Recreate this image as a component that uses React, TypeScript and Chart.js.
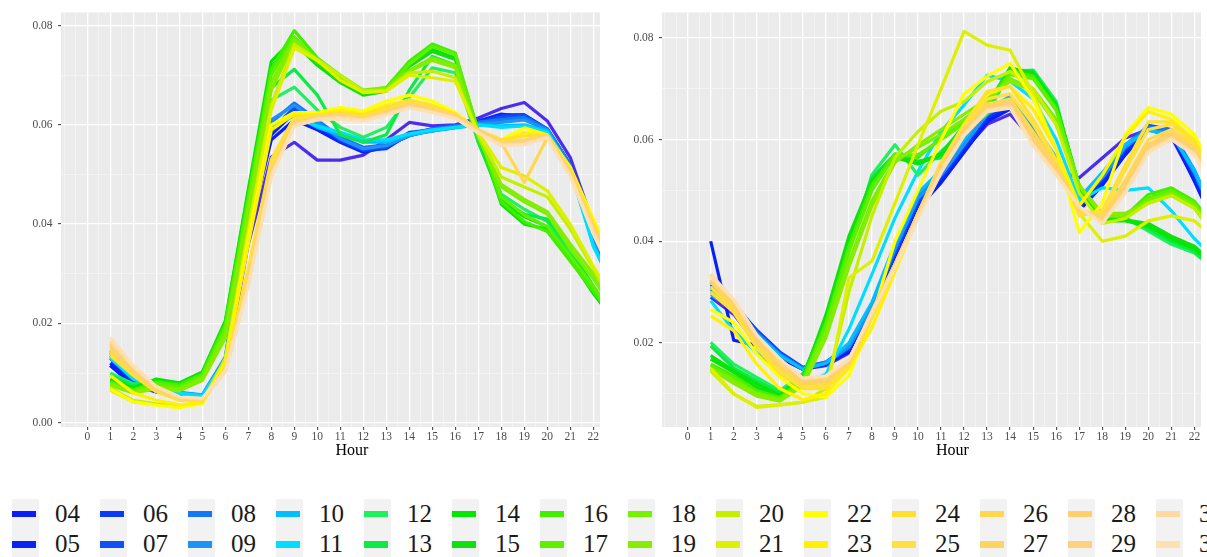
import { useEffect, useRef } from 'react';
import { Chart, registerables } from 'chart.js';
Chart.register(...registerables);

const HOURS = [1, 2, 3, 4, 5, 6, 7, 8, 9, 10, 11, 12, 13, 14, 15, 16, 17, 18, 19, 20, 21, 22, 23];
const DAYS = ['03', '04', '05', '06', '07', '08', '09', '10', '11', '12', '13', '14', '15', '16', '17', '18', '19', '20', '21', '22', '23', '24', '25', '26', '27', '28', '29', '30', '31'];
const COLORS = ['#4B2DF0', '#0A1EF5', '#0A24F8', '#0A3CF8', '#1050F5', '#1478F5', '#1E92F5', '#00BFFF', '#00DDFF', '#20F060', '#10E845', '#00E800', '#10E010', '#40F000', '#5EF000', '#76F200', '#88EC00', '#C4F000', '#DCF000', '#FFFF00', '#FFF200', '#FFE030', '#FFE040', '#FFD850', '#FFD460', '#FFCF70', '#FFD080', '#FFDAA0', '#FFE0B0'];

const X_TICKS = [-1, -0.5, 0, 0.5, 1, 1.5, 2, 2.5, 3, 3.5, 4, 4.5, 5, 5.5, 6, 6.5, 7, 7.5, 8, 8.5, 9, 9.5, 10, 10.5, 11, 11.5, 12, 12.5, 13, 13.5, 14, 14.5, 15, 15.5, 16, 16.5, 17, 17.5, 18, 18.5, 19, 19.5, 20, 20.5, 21, 21.5, 22, 22.5, 23, 23.5, 24];
const X_LABELS = [0, 1, 2, 3, 4, 5, 6, 7, 8, 9, 10, 11, 12, 13, 14, 15, 16, 17, 18, 19, 20, 21, 22];
const Y_TICKS_L = [0, 0.01, 0.02, 0.03, 0.04, 0.05, 0.06, 0.07, 0.08];
const Y_TICKS_R = [0.01, 0.02, 0.03, 0.04, 0.05, 0.06, 0.07, 0.08];
const Y_LABELS = [0, 0.02, 0.04, 0.06, 0.08];

// Left panel
const L03 = [0.0115, 0.0078, 0.0064, 0.0055, 0.0050, 0.0108, 0.0360, 0.0535, 0.0565, 0.0529, 0.0529, 0.0539, 0.0570, 0.0605, 0.0598, 0.0600, 0.0614, 0.0633, 0.0645, 0.0608, 0.0534, 0.0400, 0.0300];
const L04 = [0.0115, 0.0075, 0.0062, 0.0055, 0.0050, 0.0110, 0.0380, 0.0570, 0.0610, 0.0590, 0.0565, 0.0545, 0.0555, 0.0580, 0.0588, 0.0595, 0.0605, 0.0620, 0.0620, 0.0590, 0.0520, 0.0380, 0.0280];
const L05 = [0.0120, 0.0080, 0.0062, 0.0056, 0.0052, 0.0115, 0.0390, 0.0580, 0.0625, 0.0595, 0.0570, 0.0550, 0.0558, 0.0578, 0.0590, 0.0596, 0.0608, 0.0622, 0.0615, 0.0588, 0.0515, 0.0370, 0.0270];
const L06 = [0.0130, 0.0082, 0.0064, 0.0057, 0.0053, 0.0120, 0.0400, 0.0585, 0.0630, 0.0600, 0.0568, 0.0548, 0.0552, 0.0582, 0.0592, 0.0598, 0.0606, 0.0618, 0.0620, 0.0592, 0.0520, 0.0375, 0.0270];
const L07 = [0.0135, 0.0085, 0.0066, 0.0058, 0.0054, 0.0125, 0.0410, 0.0590, 0.0635, 0.0602, 0.0570, 0.0550, 0.0555, 0.0585, 0.0590, 0.0595, 0.0604, 0.0615, 0.0618, 0.0590, 0.0518, 0.0370, 0.0260];
const L08 = [0.0140, 0.0090, 0.0070, 0.0060, 0.0055, 0.0130, 0.0420, 0.0605, 0.0644, 0.0610, 0.0575, 0.0555, 0.0560, 0.0580, 0.0592, 0.0598, 0.0605, 0.0610, 0.0615, 0.0592, 0.0520, 0.0365, 0.0260];
const L09 = [0.0145, 0.0092, 0.0071, 0.0061, 0.0056, 0.0132, 0.0430, 0.0610, 0.0640, 0.0605, 0.0572, 0.0552, 0.0558, 0.0578, 0.0590, 0.0596, 0.0602, 0.0605, 0.0610, 0.0590, 0.0515, 0.0360, 0.0260];
const L10 = [0.0135, 0.0090, 0.0070, 0.0060, 0.0055, 0.0128, 0.0420, 0.0600, 0.0620, 0.0595, 0.0580, 0.0565, 0.0565, 0.0580, 0.0588, 0.0594, 0.0600, 0.0598, 0.0600, 0.0588, 0.0510, 0.0360, 0.0260];
const L11 = [0.0130, 0.0088, 0.0068, 0.0059, 0.0054, 0.0125, 0.0410, 0.0598, 0.0618, 0.0598, 0.0585, 0.0570, 0.0570, 0.0582, 0.0590, 0.0595, 0.0600, 0.0595, 0.0598, 0.0585, 0.0510, 0.0355, 0.0260];
const L12 = [0.0100, 0.0078, 0.0078, 0.0072, 0.0095, 0.0190, 0.0440, 0.0650, 0.0676, 0.0630, 0.0595, 0.0575, 0.0595, 0.0655, 0.0715, 0.0705, 0.0565, 0.0460, 0.0430, 0.0405, 0.0340, 0.0270, 0.0210];
const L13 = [0.0095, 0.0074, 0.0084, 0.0077, 0.0098, 0.0198, 0.0450, 0.0675, 0.0712, 0.0660, 0.0580, 0.0565, 0.0580, 0.0670, 0.0738, 0.0720, 0.0565, 0.0450, 0.0420, 0.0410, 0.0350, 0.0275, 0.0210];
const L14 = [0.0088, 0.0070, 0.0088, 0.0080, 0.0102, 0.0205, 0.0470, 0.0728, 0.0775, 0.0725, 0.0695, 0.0665, 0.0672, 0.0722, 0.0752, 0.0735, 0.0580, 0.0445, 0.0415, 0.0395, 0.0335, 0.0265, 0.0200];
const L15 = [0.0085, 0.0068, 0.0086, 0.0079, 0.0100, 0.0202, 0.0465, 0.0718, 0.0765, 0.0720, 0.0685, 0.0660, 0.0668, 0.0718, 0.0748, 0.0732, 0.0580, 0.0440, 0.0400, 0.0390, 0.0330, 0.0260, 0.0200];
const L16 = [0.0082, 0.0066, 0.0082, 0.0076, 0.0098, 0.0198, 0.0455, 0.0712, 0.0790, 0.0735, 0.0700, 0.0668, 0.0675, 0.0728, 0.0763, 0.0745, 0.0585, 0.0445, 0.0405, 0.0385, 0.0325, 0.0265, 0.0205];
const L17 = [0.0080, 0.0064, 0.0078, 0.0072, 0.0094, 0.0190, 0.0445, 0.0700, 0.0778, 0.0728, 0.0698, 0.0665, 0.0672, 0.0722, 0.0758, 0.0742, 0.0588, 0.0455, 0.0418, 0.0395, 0.0335, 0.0275, 0.0210];
const L18 = [0.0078, 0.0062, 0.0072, 0.0068, 0.0090, 0.0180, 0.0430, 0.0685, 0.0772, 0.0730, 0.0700, 0.0670, 0.0675, 0.0710, 0.0735, 0.0720, 0.0575, 0.0475, 0.0445, 0.0420, 0.0350, 0.0290, 0.0220];
const L19 = [0.0075, 0.0060, 0.0068, 0.0064, 0.0085, 0.0170, 0.0420, 0.0670, 0.0768, 0.0728, 0.0698, 0.0668, 0.0672, 0.0708, 0.0730, 0.0715, 0.0578, 0.0480, 0.0450, 0.0425, 0.0360, 0.0300, 0.0230];
const L20 = [0.0070, 0.0045, 0.0038, 0.0034, 0.0042, 0.0130, 0.0390, 0.0640, 0.0762, 0.0732, 0.0700, 0.0668, 0.0670, 0.0705, 0.0708, 0.0695, 0.0580, 0.0495, 0.0475, 0.0455, 0.0390, 0.0310, 0.0230];
const L21 = [0.0065, 0.0042, 0.0036, 0.0032, 0.0040, 0.0125, 0.0380, 0.0630, 0.0755, 0.0730, 0.0690, 0.0665, 0.0668, 0.0700, 0.0695, 0.0688, 0.0585, 0.0514, 0.0497, 0.0467, 0.0400, 0.0315, 0.0240];
const L22 = [0.0068, 0.0042, 0.0035, 0.0030, 0.0038, 0.0120, 0.0370, 0.0600, 0.0625, 0.0625, 0.0635, 0.0628, 0.0648, 0.0660, 0.0648, 0.0625, 0.0588, 0.0570, 0.0594, 0.0580, 0.0515, 0.0410, 0.0310];
const L23 = [0.0095, 0.0060, 0.0045, 0.0036, 0.0040, 0.0118, 0.0360, 0.0590, 0.0622, 0.0620, 0.0630, 0.0622, 0.0640, 0.0650, 0.0640, 0.0620, 0.0585, 0.0565, 0.0585, 0.0578, 0.0510, 0.0405, 0.0305];
const L24 = [0.0135, 0.0095, 0.0062, 0.0045, 0.0045, 0.0110, 0.0310, 0.0530, 0.0615, 0.0620, 0.0625, 0.0620, 0.0635, 0.0650, 0.0638, 0.0622, 0.0590, 0.0570, 0.0578, 0.0580, 0.0510, 0.0400, 0.0300];
const L25 = [0.0140, 0.0100, 0.0065, 0.0047, 0.0046, 0.0108, 0.0300, 0.0520, 0.0610, 0.0618, 0.0620, 0.0615, 0.0630, 0.0645, 0.0635, 0.0620, 0.0590, 0.0568, 0.0570, 0.0578, 0.0505, 0.0395, 0.0295];
const L26 = [0.0145, 0.0102, 0.0066, 0.0048, 0.0046, 0.0106, 0.0290, 0.0510, 0.0605, 0.0615, 0.0618, 0.0612, 0.0628, 0.0642, 0.0632, 0.0618, 0.0590, 0.0564, 0.0484, 0.0574, 0.0505, 0.0395, 0.0295];
const L27 = [0.0150, 0.0105, 0.0068, 0.0049, 0.0047, 0.0105, 0.0285, 0.0505, 0.0600, 0.0610, 0.0615, 0.0610, 0.0625, 0.0640, 0.0630, 0.0615, 0.0588, 0.0562, 0.0568, 0.0575, 0.0500, 0.0390, 0.0290];
const L28 = [0.0155, 0.0108, 0.0070, 0.0050, 0.0047, 0.0104, 0.0280, 0.0500, 0.0598, 0.0612, 0.0618, 0.0610, 0.0622, 0.0638, 0.0628, 0.0615, 0.0585, 0.0560, 0.0565, 0.0575, 0.0500, 0.0385, 0.0285];
const L29 = [0.0160, 0.0110, 0.0071, 0.0051, 0.0048, 0.0104, 0.0280, 0.0500, 0.0602, 0.0615, 0.0620, 0.0612, 0.0625, 0.0640, 0.0630, 0.0618, 0.0588, 0.0562, 0.0568, 0.0578, 0.0500, 0.0390, 0.0290];
const L30 = [0.0165, 0.0112, 0.0072, 0.0051, 0.0048, 0.0104, 0.0278, 0.0498, 0.0600, 0.0612, 0.0615, 0.0610, 0.0622, 0.0636, 0.0626, 0.0614, 0.0585, 0.0560, 0.0562, 0.0575, 0.0498, 0.0385, 0.0285];
const L31 = [0.0172, 0.0115, 0.0073, 0.0052, 0.0049, 0.0105, 0.0276, 0.0495, 0.0598, 0.0610, 0.0612, 0.0608, 0.0620, 0.0634, 0.0625, 0.0613, 0.0584, 0.0558, 0.0560, 0.0574, 0.0496, 0.0380, 0.0280];

// Right panel
const R03 = [0.0290, 0.0256, 0.0198, 0.0170, 0.0148, 0.0155, 0.0180, 0.0260, 0.0370, 0.0470, 0.0530, 0.0580, 0.0630, 0.0650, 0.0600, 0.0540, 0.0525, 0.0564, 0.0603, 0.0620, 0.0605, 0.0520, 0.0420];
const R04 = [0.0400, 0.0205, 0.0195, 0.0172, 0.0148, 0.0158, 0.0182, 0.0255, 0.0360, 0.0465, 0.0515, 0.0575, 0.0635, 0.0660, 0.0605, 0.0550, 0.0460, 0.0510, 0.0570, 0.0622, 0.0610, 0.0518, 0.0420];
const R05 = [0.0310, 0.0270, 0.0222, 0.0180, 0.0150, 0.0160, 0.0185, 0.0260, 0.0370, 0.0470, 0.0520, 0.0580, 0.0640, 0.0665, 0.0610, 0.0545, 0.0465, 0.0515, 0.0575, 0.0620, 0.0612, 0.0525, 0.0425];
const R06 = [0.0320, 0.0275, 0.0225, 0.0182, 0.0152, 0.0162, 0.0188, 0.0265, 0.0375, 0.0475, 0.0525, 0.0585, 0.0645, 0.0670, 0.0615, 0.0550, 0.0470, 0.0520, 0.0580, 0.0625, 0.0615, 0.0530, 0.0430];
const R07 = [0.0315, 0.0280, 0.0222, 0.0180, 0.0150, 0.0160, 0.0190, 0.0270, 0.0380, 0.0480, 0.0530, 0.0590, 0.0650, 0.0675, 0.0620, 0.0555, 0.0475, 0.0525, 0.0585, 0.0628, 0.0620, 0.0535, 0.0435];
const R08 = [0.0300, 0.0272, 0.0220, 0.0178, 0.0150, 0.0162, 0.0195, 0.0275, 0.0390, 0.0490, 0.0535, 0.0595, 0.0655, 0.0680, 0.0625, 0.0560, 0.0480, 0.0530, 0.0590, 0.0625, 0.0618, 0.0540, 0.0440];
const R09 = [0.0305, 0.0268, 0.0218, 0.0176, 0.0148, 0.0160, 0.0192, 0.0270, 0.0385, 0.0485, 0.0530, 0.0590, 0.0650, 0.0675, 0.0620, 0.0555, 0.0478, 0.0525, 0.0585, 0.0620, 0.0612, 0.0535, 0.0435];
const R10 = [0.0295, 0.0265, 0.0215, 0.0175, 0.0148, 0.0160, 0.0200, 0.0280, 0.0395, 0.0495, 0.0540, 0.0600, 0.0660, 0.0685, 0.0630, 0.0565, 0.0485, 0.0535, 0.0590, 0.0618, 0.0610, 0.0540, 0.0440];
const R11 = [0.0283, 0.0224, 0.0180, 0.0148, 0.0120, 0.0138, 0.0227, 0.0335, 0.0446, 0.0538, 0.0616, 0.0668, 0.0727, 0.0715, 0.0680, 0.0600, 0.0480, 0.0505, 0.0500, 0.0505, 0.0460, 0.0405, 0.0360];
const R12 = [0.0201, 0.0158, 0.0132, 0.0106, 0.0139, 0.0237, 0.0380, 0.0531, 0.0590, 0.0530, 0.0577, 0.0616, 0.0650, 0.0734, 0.0737, 0.0675, 0.0500, 0.0446, 0.0446, 0.0420, 0.0394, 0.0377, 0.0340];
const R13 = [0.0194, 0.0150, 0.0125, 0.0102, 0.0135, 0.0245, 0.0390, 0.0525, 0.0571, 0.0558, 0.0564, 0.0620, 0.0660, 0.0738, 0.0735, 0.0670, 0.0505, 0.0442, 0.0445, 0.0425, 0.0400, 0.0380, 0.0340];
const R14 = [0.0175, 0.0145, 0.0119, 0.0097, 0.0132, 0.0250, 0.0400, 0.0515, 0.0565, 0.0552, 0.0570, 0.0625, 0.0665, 0.0740, 0.0732, 0.0668, 0.0510, 0.0440, 0.0440, 0.0430, 0.0405, 0.0385, 0.0345];
const R15 = [0.0168, 0.0142, 0.0112, 0.0094, 0.0130, 0.0255, 0.0410, 0.0520, 0.0568, 0.0555, 0.0572, 0.0628, 0.0668, 0.0742, 0.0728, 0.0665, 0.0505, 0.0442, 0.0442, 0.0435, 0.0410, 0.0390, 0.0350];
const R16 = [0.0158, 0.0135, 0.0106, 0.0093, 0.0128, 0.0240, 0.0390, 0.0511, 0.0572, 0.0565, 0.0603, 0.0636, 0.0670, 0.0735, 0.0725, 0.0662, 0.0508, 0.0448, 0.0450, 0.0492, 0.0505, 0.0479, 0.0420];
const R17 = [0.0155, 0.0130, 0.0102, 0.0090, 0.0125, 0.0232, 0.0380, 0.0500, 0.0570, 0.0570, 0.0600, 0.0632, 0.0668, 0.0728, 0.0720, 0.0658, 0.0510, 0.0450, 0.0452, 0.0485, 0.0500, 0.0475, 0.0415];
const R18 = [0.0150, 0.0125, 0.0100, 0.0088, 0.0120, 0.0220, 0.0360, 0.0480, 0.0560, 0.0585, 0.0610, 0.0640, 0.0675, 0.0720, 0.0700, 0.0640, 0.0510, 0.0450, 0.0450, 0.0480, 0.0495, 0.0470, 0.0410];
const R19 = [0.0148, 0.0120, 0.0095, 0.0085, 0.0115, 0.0210, 0.0350, 0.0470, 0.0555, 0.0590, 0.0620, 0.0650, 0.0680, 0.0715, 0.0695, 0.0630, 0.0510, 0.0455, 0.0455, 0.0475, 0.0490, 0.0465, 0.0405];
const R20 = [0.0145, 0.0099, 0.0075, 0.0078, 0.0083, 0.0110, 0.0300, 0.0450, 0.0565, 0.0616, 0.0656, 0.0675, 0.0714, 0.0734, 0.0700, 0.0630, 0.0495, 0.0435, 0.0445, 0.0475, 0.0490, 0.0465, 0.0410];
const R21 = [0.0150, 0.0100, 0.0073, 0.0078, 0.0083, 0.0093, 0.0328, 0.0361, 0.0475, 0.0590, 0.0700, 0.0813, 0.0786, 0.0776, 0.0690, 0.0580, 0.0455, 0.0400, 0.0410, 0.0440, 0.0450, 0.0440, 0.0400];
const R22 = [0.0266, 0.0240, 0.0178, 0.0132, 0.0100, 0.0093, 0.0135, 0.0250, 0.0400, 0.0500, 0.0600, 0.0690, 0.0725, 0.0750, 0.0680, 0.0580, 0.0417, 0.0475, 0.0610, 0.0663, 0.0650, 0.0610, 0.0520];
const R23 = [0.0253, 0.0224, 0.0158, 0.0110, 0.0088, 0.0100, 0.0150, 0.0230, 0.0340, 0.0450, 0.0550, 0.0630, 0.0690, 0.0705, 0.0660, 0.0580, 0.0470, 0.0530, 0.0605, 0.0655, 0.0640, 0.0600, 0.0510];
const R24 = [0.0300, 0.0260, 0.0190, 0.0140, 0.0110, 0.0110, 0.0155, 0.0250, 0.0350, 0.0455, 0.0555, 0.0630, 0.0695, 0.0705, 0.0640, 0.0560, 0.0450, 0.0460, 0.0550, 0.0635, 0.0635, 0.0595, 0.0510];
const R25 = [0.0310, 0.0265, 0.0195, 0.0145, 0.0115, 0.0115, 0.0155, 0.0250, 0.0350, 0.0455, 0.0550, 0.0625, 0.0680, 0.0690, 0.0630, 0.0555, 0.0455, 0.0455, 0.0540, 0.0620, 0.0630, 0.0590, 0.0505];
const R26 = [0.0320, 0.0270, 0.0200, 0.0150, 0.0120, 0.0120, 0.0160, 0.0255, 0.0355, 0.0455, 0.0548, 0.0620, 0.0670, 0.0680, 0.0615, 0.0550, 0.0460, 0.0450, 0.0520, 0.0600, 0.0620, 0.0585, 0.0500];
const R27 = [0.0325, 0.0275, 0.0205, 0.0155, 0.0123, 0.0125, 0.0162, 0.0260, 0.0355, 0.0455, 0.0545, 0.0618, 0.0665, 0.0675, 0.0605, 0.0545, 0.0465, 0.0445, 0.0510, 0.0590, 0.0615, 0.0580, 0.0505];
const R28 = [0.0330, 0.0280, 0.0210, 0.0165, 0.0126, 0.0132, 0.0165, 0.0263, 0.0355, 0.0453, 0.0544, 0.0616, 0.0662, 0.0672, 0.0597, 0.0538, 0.0466, 0.0440, 0.0505, 0.0584, 0.0610, 0.0577, 0.0500];
const R29 = [0.0335, 0.0282, 0.0212, 0.0167, 0.0128, 0.0133, 0.0166, 0.0262, 0.0352, 0.0450, 0.0540, 0.0612, 0.0660, 0.0668, 0.0592, 0.0535, 0.0468, 0.0438, 0.0500, 0.0580, 0.0605, 0.0575, 0.0495];
const R30 = [0.0335, 0.0285, 0.0214, 0.0168, 0.0130, 0.0134, 0.0167, 0.0260, 0.0350, 0.0448, 0.0538, 0.0610, 0.0658, 0.0665, 0.0590, 0.0532, 0.0468, 0.0436, 0.0498, 0.0578, 0.0602, 0.0572, 0.0490];
const R31 = [0.0330, 0.0285, 0.0215, 0.0168, 0.0130, 0.0135, 0.0168, 0.0258, 0.0348, 0.0445, 0.0535, 0.0608, 0.0655, 0.0662, 0.0588, 0.0530, 0.0468, 0.0435, 0.0495, 0.0575, 0.0600, 0.0570, 0.0488];

const LEFT = [L03, L04, L05, L06, L07, L08, L09, L10, L11, L12, L13, L14, L15, L16, L17, L18, L19, L20, L21, L22, L23, L24, L25, L26, L27, L28, L29, L30, L31];
const RIGHT = [R03, R04, R05, R06, R07, R08, R09, R10, R11, R12, R13, R14, R15, R16, R17, R18, R19, R20, R21, R22, R23, R24, R25, R26, R27, R28, R29, R30, R31];

const FONT = '"Liberation Serif", "Times New Roman", Times, "DejaVu Serif", "Noto Serif", serif';

const bgPlugin = {
  id: 'panelBg',
  beforeDraw(chart: any) {
    const { ctx, chartArea } = chart;
    ctx.save();
    ctx.fillStyle = '#EBEBEB';
    ctx.fillRect(chartArea.left, chartArea.top, chartArea.right - chartArea.left, chartArea.bottom - chartArea.top);
    ctx.restore();
  },
};

function isXMajor(v: number) {
  return X_LABELS.includes(v);
}
function isYMajor(v: number) {
  return Y_LABELS.some((t) => Math.abs(t - v) < 1e-9);
}

function makeConfig(series: number[][], yTicks: number[], yMin: number, yMax: number, xMin: number, xMax: number, yAxisWidth: number) {
  const n = series.length;
  return {
    type: 'line',
    data: {
      datasets: series.map((vals, i) => ({
        label: DAYS[i],
        data: HOURS.map((h, j) => ({ x: h, y: vals[j] })),
        borderColor: COLORS[i],
        backgroundColor: COLORS[i],
        borderWidth: 3.2,
        pointRadius: 0,
        pointHoverRadius: 0,
        tension: 0,
        fill: false,
        borderJoinStyle: 'round',
        borderCapStyle: 'butt',
        clip: 0,
        order: n - i,
      })),
    },
    options: {
      animation: false,
      responsive: false,
      maintainAspectRatio: false,
      events: [],
      layout: { padding: { left: 0, top: 11, right: 37, bottom: 20 } },
      plugins: { legend: { display: false }, tooltip: { enabled: false } },
      scales: {
        x: {
          type: 'linear',
          min: xMin,
          max: xMax,
          afterBuildTicks: (scale: any) => {
            scale.ticks = X_TICKS.map((v) => ({ value: v }));
          },
          afterFit: (scale: any) => {
            scale.height = 33;
          },
          border: { display: false },
          grid: {
            color: (c: any) => (isXMajor(c.tick.value) ? '#FFFFFF' : '#F5F5F5'),
            lineWidth: (c: any) => (isXMajor(c.tick.value) ? 1.3 : 0.8),
            tickColor: (c: any) => (isXMajor(c.tick.value) ? '#333333' : 'rgba(0,0,0,0)'),
            tickLength: 3,
            tickWidth: 1,
          },
          ticks: {
            autoSkip: false,
            maxRotation: 0,
            padding: 0,
            color: '#4D4D4D',
            font: { family: FONT, size: 11.5 },
            callback: (v: number) => (isXMajor(v) ? String(v) : ''),
          },
          title: {
            display: true,
            text: 'Hour',
            color: '#000000',
            font: { family: FONT, size: 16 },
            padding: { top: 0, bottom: 0 },
          },
        },
        y: {
          type: 'linear',
          min: yMin,
          max: yMax,
          afterBuildTicks: (scale: any) => {
            scale.ticks = yTicks.map((v) => ({ value: v }));
          },
          afterFit: (scale: any) => {
            scale.width = yAxisWidth;
          },
          border: { display: false },
          grid: {
            color: (c: any) => (isYMajor(c.tick.value) ? '#FFFFFF' : '#F5F5F5'),
            lineWidth: (c: any) => (isYMajor(c.tick.value) ? 1.3 : 0.8),
            tickColor: (c: any) => (isYMajor(c.tick.value) ? '#333333' : 'rgba(0,0,0,0)'),
            tickLength: 3,
            tickWidth: 1,
          },
          ticks: {
            autoSkip: false,
            padding: 5.5,
            color: '#4D4D4D',
            font: { family: FONT, size: 11.5 },
            callback: (v: number) => (isYMajor(v) ? v.toFixed(2) : ''),
          },
        },
      },
    },
    plugins: [bgPlugin],
  } as any;
}

function Panel({ left, width, series, yTicks, yMin, yMax, xMin, xMax, yAxisWidth }: any) {
  const ref = useRef<HTMLCanvasElement | null>(null);
  useEffect(() => {
    if (!ref.current) return;
    const chart = new Chart(ref.current, makeConfig(series, yTicks, yMin, yMax, xMin, xMax, yAxisWidth));
    return () => chart.destroy();
  }, []);
  return (
    <div style={{ position: 'absolute', left, top: 0, width, height: 480, overflow: 'hidden' }}>
      <canvas ref={ref} width={680} height={480} style={{ width: 680, height: 480, display: 'block' }} />
    </div>
  );
}

export default function App() {
  const legendItems = DAYS.map((d, i) => ({ d, color: COLORS[i], num: parseInt(d, 10) })).filter((it) => it.num >= 4);
  return (
    <div style={{ position: 'absolute', left: 0, top: 0, width: 1207, height: 557, overflow: 'hidden', background: '#FFFFFF' }}>
      <Panel left={0} width={600} series={LEFT} yTicks={Y_TICKS_L} yMin={-0.00088} yMax={0.08267} xMin={-1.143} xMax={24.16} yAxisWidth={61} />
      <Panel left={600} width={601} series={RIGHT} yTicks={Y_TICKS_R} yMin={0.00343} yMax={0.08505} xMin={-1.116} xMax={24.11} yAxisWidth={62} />
      <div style={{ position: 'absolute', left: 0, top: 499, width: 1207, height: 58, overflow: 'hidden' }}>
        {legendItems.map((it) => {
          const col = Math.floor((it.num - 4) / 2);
          const row = it.num % 2;
          const x = 12 + 88 * col;
          const y = row * 30.3;
          return (
            <div key={it.d}>
              <div style={{ position: 'absolute', left: x, top: y, width: 27, height: 30.3, background: '#F2F2F2' }} />
              <div style={{ position: 'absolute', left: x, top: y + 11.7, width: 24, height: 6.6, background: it.color }} />
              <div
                style={{
                  position: 'absolute',
                  left: x + 43,
                  top: y,
                  height: 30.3,
                  lineHeight: '30.3px',
                  fontFamily: FONT,
                  fontSize: 25,
                  color: '#1A1A1A',
                  whiteSpace: 'nowrap',
                }}
              >
                {it.d}
              </div>
            </div>
          );
        })}
      </div>
    </div>
  );
}
